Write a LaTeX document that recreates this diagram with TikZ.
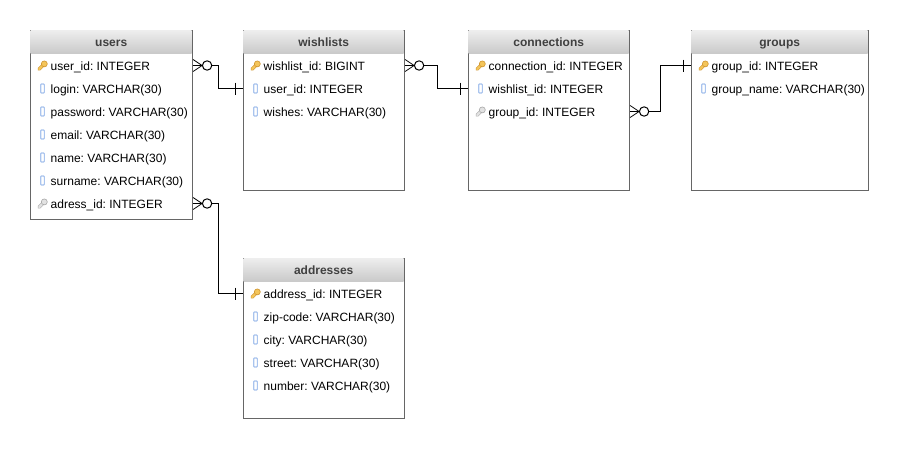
\documentclass[tikz,border=0pt]{standalone}
\usepackage{fontspec}
\setmainfont{Liberation Sans}
\usepackage{xcolor}
\usepackage{tikz}
\usetikzlibrary{positioning}

\definecolor{frameGray}{HTML}{666666}
\definecolor{titleGray}{HTML}{404040}
\definecolor{keyGold}{HTML}{F4C55A}
\definecolor{keyEdge}{HTML}{CF9530}
\definecolor{fkGray}{HTML}{E2E2E2}
\definecolor{fkEdge}{HTML}{A8A8A8}
\definecolor{fieldBlue}{HTML}{A9C4EE}

\newcommand{\keyglyph}[2]{
    \draw[#2, line width=3.4pt, line cap=round] (-3.4,3.6) -- (1,-0.8);
    \draw[#1, line width=2.2pt, line cap=round] (-3.4,3.6) -- (1,-0.8);
    \draw[#2, line width=0.6pt, fill=#1] (1.8,-1.6) circle (3);
}

\tikzset{
    tablebox/.style={draw=frameGray, line width=1.1pt, fill=white, anchor=north west, inner sep=0},
    tablehead/.style={anchor=north west, inner sep=0, minimum height=22.5pt,
        top color=black!7, bottom color=black!21, text=titleGray, text height=9pt, text depth=0pt,
        font=\fontsize{12}{14}\selectfont\bfseries},
    rowtext/.style={anchor=west, inner sep=0, text height=9pt, text depth=0pt,
        font=\fontsize{12}{14}\selectfont\frenchspacing},
    link/.style={line width=1pt, black},
    crowfoot/.pic={
        \draw[line width=0.8pt] (0,-6) -- (9,0) -- (0,6) (0,0) -- (9,0);
        \draw[line width=1pt, fill=white] (14,0) circle (4.7);
    },
    onebar/.pic={
        \draw[line width=1pt] (-8,-6) -- (-8,6);
    },
    fieldicon/.pic={
        \draw[fieldBlue, line width=1.1pt, fill=white, rounded corners=0.8pt] (-1.8,-4.5) rectangle (1.8,4.5);
    },
    keyicon/.pic={\keyglyph{keyGold}{keyEdge}},
    fkicon/.pic={\keyglyph{fkGray}{fkEdge}}
}

% name, left, top, width, height, title
\newcommand{\dbtable}[6]{
    \node[tablebox, minimum width=#4pt, minimum height=#5pt] (#1) at (#2,#3) {};
    \node[tablehead, minimum width=#4pt-1pt] at ([shift={(0.5,0.5)}]#1.north west) {#6};
}
% name, x, y, icon, text
\newcommand{\dbrow}[5]{
    \node[rowtext] (#1) at (#2,#3) {#5};
    \pic at ([xshift=-8pt]#1.west) {#4};
}

\begin{document}
\begin{tikzpicture}[x=1pt, y=-1pt]
    \useasboundingbox (0,0) rectangle (898,448);

    \dbtable{users}{30}{30}{162}{189}{users}
    \dbtable{wishlists}{243}{30}{161}{160}{wishlists}
    \dbtable{connections}{468}{30}{161}{160}{connections}
    \dbtable{groups}{691}{30}{177}{160}{groups}
    \dbtable{addresses}{243}{258}{161}{160}{addresses}

    \dbrow{userid}{50.5}{65.5}{keyicon}{user\_id: INTEGER}
    \dbrow{login}{50.5}{88.5}{fieldicon}{login: VARCHAR(30)}
    \dbrow{password}{50.5}{111.5}{fieldicon}{password: VARCHAR(30)}
    \dbrow{email}{50.5}{134.5}{fieldicon}{email: VARCHAR(30)}
    \dbrow{name}{50.5}{157.5}{fieldicon}{name: VARCHAR(30)}
    \dbrow{surname}{50.5}{180.5}{fieldicon}{surname: VARCHAR(30)}
    \dbrow{adressid}{50.5}{203.5}{fkicon}{adress\_id: INTEGER}

    \dbrow{wishlistid}{263.5}{65.5}{keyicon}{wishlist\_id: BIGINT}
    \dbrow{wishuser}{263.5}{88.5}{fieldicon}{user\_id: INTEGER}
    \dbrow{wishes}{263.5}{111.5}{fieldicon}{wishes: VARCHAR(30)}

    \dbrow{connectionid}{488.5}{65.5}{keyicon}{connection\_id: INTEGER}
    \dbrow{connwish}{488.5}{88.5}{fieldicon}{wishlist\_id: INTEGER}
    \dbrow{conngroup}{488.5}{111.5}{fkicon}{group\_id: INTEGER}

    \dbrow{groupid}{711.5}{65.5}{keyicon}{group\_id: INTEGER}
    \dbrow{groupname}{711.5}{88.5}{fieldicon}{group\_name: VARCHAR(30)}

    \dbrow{addressid}{263.5}{293.5}{keyicon}{address\_id: INTEGER}
    \dbrow{zipcode}{263.5}{316.5}{fieldicon}{zip-code: VARCHAR(30)}
    \dbrow{city}{263.5}{339.5}{fieldicon}{city: VARCHAR(30)}
    \dbrow{street}{263.5}{362.5}{fieldicon}{street: VARCHAR(30)}
    \dbrow{number}{263.5}{385.5}{fieldicon}{number: VARCHAR(30)}

    % connectors
    \draw[link] (userid -| users.east) -- ++(25,0) |- (wishuser -| wishlists.west);
    \draw[link] (wishlistid -| wishlists.east) -- ++(32,0) |- (connwish -| connections.west);
    \draw[link] (conngroup -| connections.east) -- ++(30,0) |- (groupid -| groups.west);
    \draw[link] (adressid -| users.east) -- ++(25,0) |- (addressid -| addresses.west);

    \pic at (userid -| users.east) {crowfoot};
    \pic at (wishlistid -| wishlists.east) {crowfoot};
    \pic at (conngroup -| connections.east) {crowfoot};
    \pic at (adressid -| users.east) {crowfoot};

    \pic at (wishuser -| wishlists.west) {onebar};
    \pic at (connwish -| connections.west) {onebar};
    \pic at (groupid -| groups.west) {onebar};
    \pic at (addressid -| addresses.west) {onebar};
\end{tikzpicture}
\end{document}
